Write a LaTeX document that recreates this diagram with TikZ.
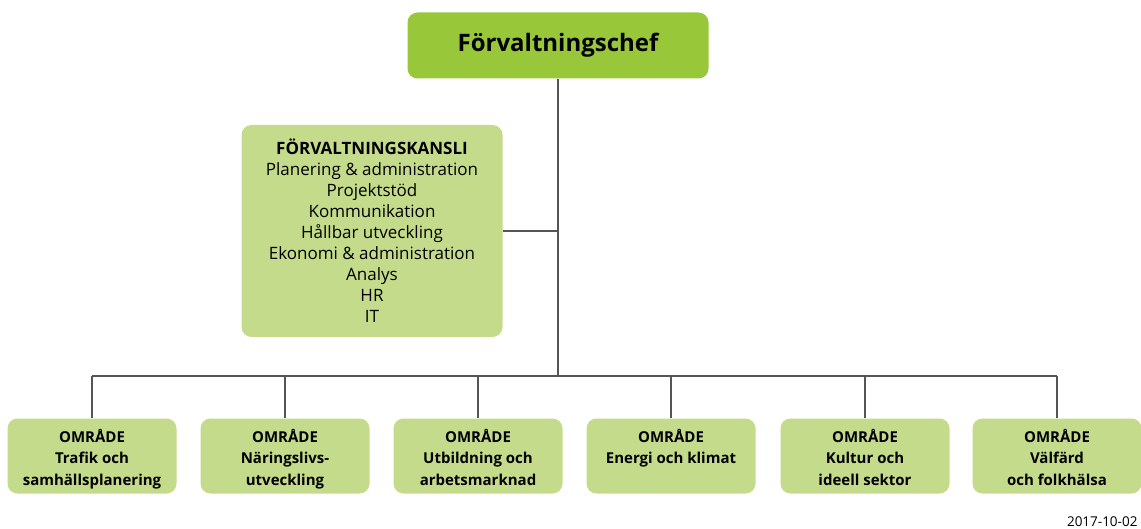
\documentclass[tikz,border=0pt]{standalone}
\usepackage{fontspec}
\setmainfont{Open Sans}
\definecolor{chefgreen}{RGB}{152,199,58}
\definecolor{areagreen}{RGB}{196,219,139}
\definecolor{linegray}{RGB}{85,85,85}
\newcommand{\area}[2]{\strut OMRÅDE\\ \strut #1\\ \strut #2}

\begin{document}
\begin{tikzpicture}[x=1pt,y=-1pt,
   chef/.style={fill=chefgreen,rounded corners=10pt,minimum width=301pt,minimum height=66pt,
      font=\fontsize{24}{30}\selectfont\bfseries},
   kansli/.style={fill=areagreen,rounded corners=10pt,minimum width=261pt,minimum height=212pt,
      align=center,font=\fontsize{17}{21}\selectfont},
   omrade/.style={fill=areagreen,rounded corners=10pt,minimum width=169pt,minimum height=75pt,
      align=center,text depth=-2.5pt,font=\fontsize{15}{21.5}\selectfont\bfseries},
   link/.style={draw=linegray,line width=1.4pt}]

\useasboundingbox (0,0) rectangle (1141,529);

\node[chef] (chef) at (558,45.5) {Förvaltningschef};

\node[kansli] (kansli) at (372,231) {\textbf{FÖRVALTNINGSKANSLI}\\
   Planering \& administration\\ Projektstöd\\ Kommunikation\\ Hållbar utveckling\\
   Ekonomi \& administration\\ Analys\\ HR\\ IT};

\node[omrade] (o1) at (92,456)   {\area{Trafik och}{samhällsplanering}};
\node[omrade] (o2) at (285,456)  {\area{Näringslivs-}{utveckling}};
\node[omrade] (o3) at (478,456)  {\area{Utbildning och}{arbetsmarknad}};
\node[omrade] (o4) at (671,456)  {\area{Energi och klimat}{}};
\node[omrade] (o5) at (865,456)  {\area{Kultur och}{ideell sektor}};
\node[omrade] (o6) at (1057,456) {\area{Välfärd}{och folkhälsa}};

\coordinate (bus) at (558,376);

\draw[link] (chef) -- (bus);
\draw[link] (kansli.east) -- (kansli.east -| bus);
\draw[link] (o1 |- bus) -- (o6 |- bus);
\foreach \i in {1,...,6}
   \draw[link] (o\i.north) -- (o\i |- bus);

\node[anchor=east,font=\fontsize{13.5}{16}\selectfont] (date) at (1141,522) {2017-10-02};

\end{tikzpicture}
\end{document}
